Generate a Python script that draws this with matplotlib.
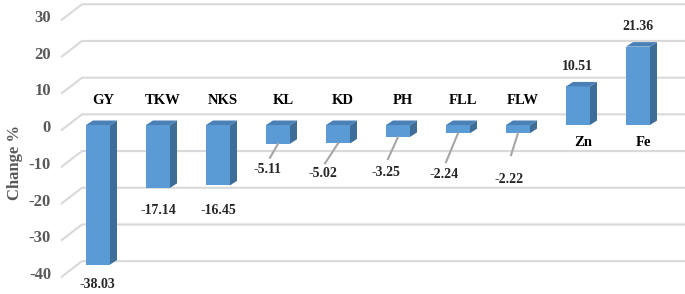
import matplotlib.pyplot as plt
from matplotlib.patches import Polygon

# data
categories = ["GY", "TKW", "NKS", "KL", "KD", "PH", "FLL", "FLW", "Zn", "Fe"]
changes = [-38.03, -17.14, -16.45, -5.11, -5.02, -3.25, -2.24, -2.22, 10.51, 21.36]
y_ticks = [-40, -30, -20, -10, 0, 10, 20, 30]

# layout (pixel offsets of value labels from bar end, leader line gaps)
label_offsets = [(-1, 20), (0, 23), (0, 25), (-10, 26), (-15, 30),
                 (-12, 36), (-14, 41), (-9, 46), (-1, -20), (-0.5, -20)]
leader_gaps = [None, None, None, 12, 10, 14, 12, 24, None, None]

W, H = 685, 294
px_x = 60.0      # px per category
px_y = 3.67      # px per unit
x_zero_px = 98   # centre of first bar
y_zero_px = 125  # front baseline

def sx(p):
    return p / px_x

def sy(p):
    return p / px_y

fig = plt.figure(figsize=(W / 100, H / 100), dpi=100)
ax = fig.add_axes([0, 0, 1, 1])
ax.set_xlim(-x_zero_px / px_x, (W - x_zero_px) / px_x)
ax.set_ylim(-(H - y_zero_px) / px_y, y_zero_px / px_y)
ax.axis("off")

serif = "Liberation Serif"
grid_col = "#d9d9d9"
front_col = "#5b9bd5"
side_col = "#3e6d98"
top_col = "#4a80b6"

# gridlines on back wall + floor diagonals
back_x = sx(82 - x_zero_px)
front_x = sx(61 - x_zero_px)
for v in y_ticks:
    ax.plot([front_x, back_x, ax.get_xlim()[1]], [v - 1.5, v + 2.9, v + 2.9],
            color=grid_col, lw=1.5, zorder=1, solid_capstyle="butt")
    ax.text(sx(51 - x_zero_px), v - 0.85, str(v), ha="right", va="center",
            family=serif, fontweight="bold", fontsize=12, color="#595959")

ax.text(sx(15 - x_zero_px), sy(y_zero_px - 162), "Change %", rotation=90,
        ha="center", va="center", family=serif, fontweight="bold",
        fontsize=12, color="#595959")

# bars
half = sx(24) / 2
dx, dy = sx(7), sy(4.5)
for i, (cat, v) in enumerate(zip(categories, changes)):
    lo, hi = min(v, 0), max(v, 0)
    l, r = i - half, i + half
    ax.add_patch(Polygon([(l, lo), (r, lo), (r, hi), (l, hi)],
                         closed=True, fc=front_col, ec="none", zorder=3))
    ax.add_patch(Polygon([(r, lo), (r + dx, lo + dy), (r + dx, hi + dy), (r, hi)],
                         closed=True, fc=side_col, ec="none", zorder=3))
    ax.add_patch(Polygon([(l, hi), (r, hi), (r + dx, hi + dy), (l + dx, hi + dy)],
                         closed=True, fc=top_col, ec="none", zorder=3))

    # category label
    cy = sy(25) if v < 0 else -sy(18)
    ax.text(i + sx(5), cy, cat, ha="center", va="center", family=serif,
            fontweight="bold", fontsize=10.5, color="black", zorder=5)

    # value label
    ox, oy = label_offsets[i]
    lx, ly = i + sx(ox), v - sy(oy)
    ax.text(lx, ly, f"{v:.2f}", ha="center", va="center", family=serif,
            fontweight="bold", fontsize=10, color="#262626", zorder=5)
    if leader_gaps[i] is not None:
        ax.plot([i, lx + sx(2)], [v, ly + sy(leader_gaps[i])],
                color="#a6a6a6", lw=1.5, zorder=4)

fig.savefig("out.png", dpi=100)
